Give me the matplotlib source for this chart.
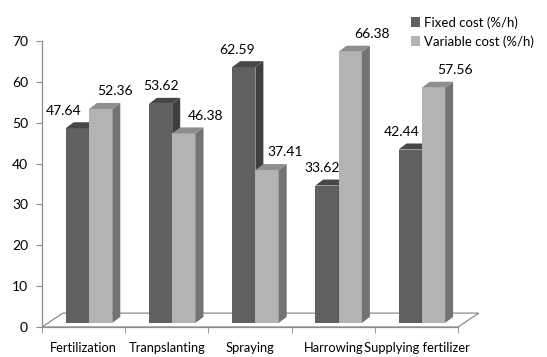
import matplotlib
matplotlib.use("Agg")
import matplotlib.pyplot as plt
from matplotlib.patches import Polygon, Rectangle

categories = ["Fertilization", "Tranpslanting", "Spraying", "Harrowing", "Supplying fertilizer"]
fixed_cost = [47.64, 53.62, 62.59, 33.62, 42.44]
variable_cost = [52.36, 46.38, 37.41, 66.38, 57.56]
series_names = ["Fixed cost (%/h)", "Variable cost (%/h)"]
yticks = [0, 10, 20, 30, 40, 50, 60, 70]

# layout (category units / value units)
base = 1.0
x_start = 0.285
w_bar = 0.28
ddx, ddy = 0.096, 1.47
floor_dx, floor_dy = 0.25, 3.4
lab_dark_x = [0.26, 0.43, 0.35, 0.365, 0.32]
lab_light_x = [0.88, 0.97, 0.92, 0.97, 0.96]
lab_dy = 4.3

dark = dict(front="#606060", top="#474747", side="#3f3f3f")
light = dict(front="#b3b3b3", top="#8e8e8e", side="#737373")

plt.rcParams["font.family"] = ["Lato", "DejaVu Sans"]
fig = plt.figure(figsize=(5.47, 3.57), dpi=100)
ax = fig.add_axes([42 / 547, 30 / 357, 416 / 547, 286 / 357])
ax.set_xlim(0, 5)
ax.set_ylim(0, 70)

gray = "#8c8c8c"
# floor
floor = Polygon([(0, 0), (5, 0), (5 + floor_dx, floor_dy), (floor_dx, floor_dy)],
                closed=True, facecolor="white", edgecolor=gray, lw=0.9, clip_on=False, zorder=1)
ax.add_patch(floor)


def draw_bar(x0, v, c):
    x1 = x0 + w_bar
    top = base + v
    ax.add_patch(Polygon([(x0, base), (x1, base), (x1, top), (x0, top)], closed=True,
                         facecolor=c["front"], edgecolor="none", clip_on=False, zorder=3))
    ax.add_patch(Polygon([(x1, base), (x1 + ddx, base + ddy), (x1 + ddx, top + ddy), (x1, top)],
                         closed=True, facecolor=c["side"], edgecolor="none", clip_on=False, zorder=3))
    ax.add_patch(Polygon([(x0, top), (x1, top), (x1 + ddx, top + ddy), (x0 + ddx, top + ddy)],
                         closed=True, facecolor=c["top"], edgecolor="none", clip_on=False, zorder=3))


for i, (f, v) in enumerate(zip(fixed_cost, variable_cost)):
    draw_bar(i + x_start, f, dark)
    draw_bar(i + x_start + w_bar, v, light)
    ax.text(i + lab_dark_x[i], base + f + lab_dy, f"{f:.2f}", ha="center", va="center",
            fontsize=10, color="black", zorder=5)
    ax.text(i + lab_light_x[i], base + v + lab_dy, f"{v:.2f}", ha="center", va="center",
            fontsize=10, color="black", zorder=5)

for s in ["top", "right"]:
    ax.spines[s].set_visible(False)
for s in ["left", "bottom"]:
    ax.spines[s].set_color(gray)
    ax.spines[s].set_linewidth(0.9)
ax.set_yticks(yticks)
ax.tick_params(axis="y", length=4, color=gray, pad=6, labelsize=10)
ax.set_xticks([i + 0.5 for i in range(len(categories))])
ax.set_xticklabels(categories, fontsize=9.3)
ax.tick_params(axis="x", which="major", length=0, pad=11)
ax.set_xticks(range(0, 6), minor=True)
ax.tick_params(axis="x", which="minor", length=4, color=gray)

# legend
handles = [Rectangle((0, 0), 1, 1, facecolor=dark["front"]),
           Rectangle((0, 0), 1, 1, facecolor=light["front"])]
fig.legend(handles, series_names, loc="upper left", bbox_to_anchor=(411 / 547, 1 - 16 / 357),
           frameon=False, fontsize=9.5, handlelength=0.7, handleheight=0.7, handletextpad=0.3,
           labelspacing=0.5, borderaxespad=0, borderpad=0)

fig.savefig("out.png", dpi=100)
